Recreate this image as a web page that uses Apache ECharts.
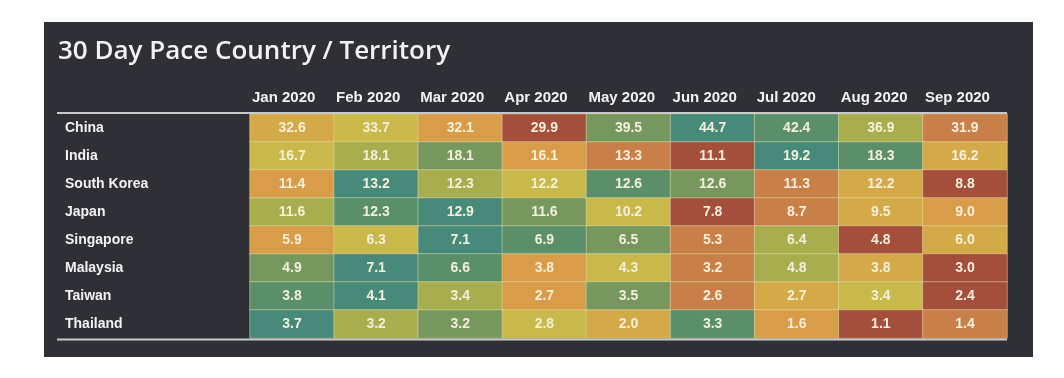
<!DOCTYPE html>
<html>
<head>
<meta charset="utf-8">
<script src="https://cdn.jsdelivr.net/npm/echarts@6/dist/echarts.min.js"></script>
<style>
html,body{margin:0;padding:0;background:#ffffff;}
#chart{width:1064px;height:378px;}
</style>
</head>
<body>
<div id="chart"></div>
<script>
var months = ['Jan 2020','Feb 2020','Mar 2020','Apr 2020','May 2020','Jun 2020','Jul 2020','Aug 2020','Sep 2020'];
var countries = ['China','India','South Korea','Japan','Singapore','Malaysia','Taiwan','Thailand'];
// values per country (shown with one decimal; ties carry estimated hidden precision)
var china     = [32.6, 33.7, 32.1, 29.9, 39.5, 44.7, 42.4, 36.9, 31.9];
var india     = [16.7, 18.08, 18.12, 16.1, 13.3, 11.1, 19.2, 18.3, 16.2];
var southKorea= [11.4, 13.2, 12.3, 12.22, 12.64, 12.56, 11.3, 12.18, 8.8];
var japan     = [11.58, 12.3, 12.9, 11.62, 10.2, 7.8, 8.7, 9.5, 9.0];
var singapore = [5.9, 6.3, 7.1, 6.9, 6.5, 5.3, 6.4, 4.8, 6.0];
var malaysia  = [4.9, 7.1, 6.6, 3.78, 4.3, 3.2, 4.8, 3.82, 3.0];
var taiwan    = [3.8, 4.1, 3.42, 2.68, 3.5, 2.6, 2.72, 3.38, 2.4];
var thailand  = [3.7, 3.18, 3.22, 2.8, 2.0, 3.3, 1.6, 1.1, 1.4];
var rows = [china, india, southKorea, japan, singapore, malaysia, taiwan, thailand];

var rankColors = ['#a44e3c','#c97f48','#d99c48','#d3aa47','#c9b84a','#a8ae4e','#76985e','#5a8f6a','#488a79'];

var data = [];
rows.forEach(function(vals, y){
  var sorted = vals.slice().sort(function(a,b){return a-b;});
  vals.forEach(function(v, x){
    data.push([x, y, v, sorted.indexOf(v)]);
  });
});

var chart = echarts.init(document.getElementById('chart'));
chart.setOption({
  backgroundColor: '#ffffff',
  animation: false,
  title: {
    text: '30 Day Pace Country / Territory',
    left: 53, top: 34,
    textStyle: {color:'#f2f2f2', fontSize: 26, fontWeight: 600, fontFamily: 'Open Sans'}
  },
  graphic: [
    {type:'rect', z:-10, shape:{x:44, y:22, width:989, height:335}, style:{fill:'#2e3035'}},
    {type:'line', z:10, shape:{x1:57, y1:113, x2:1007, y2:113}, style:{stroke:'#c9c9c9', lineWidth:2}},
    {type:'line', z:10, shape:{x1:57, y1:339.5, x2:1007, y2:339.5}, style:{stroke:'#c9c9c9', lineWidth:2}}
  ],
  grid: {left: 250, right: 57, top: 114, bottom: 40},
  xAxis: [
    {type:'category', data: months, show:false},
    {type:'value', min:0, max:9, interval:1, position:'top',
     axisLine:{show:false}, axisTick:{show:false}, splitLine:{show:false},
     axisLabel:{align:'left', margin:9, padding:[0,0,0,2], color:'#f2f2f2', fontSize:15, fontWeight:'bold', fontFamily:'Liberation Sans',
       formatter: function(v){ return months[v] || ''; }}}
  ],
  yAxis: {
    type:'category', data: countries, inverse:true,
    axisLine:{show:false}, axisTick:{show:false}, splitLine:{show:false},
    axisLabel:{align:'left', margin:185, color:'#f2f2f2', fontSize:14, fontWeight:'bold', fontFamily:'Liberation Sans'}
  },
  visualMap: {
    type:'continuous', show:false, dimension:3, min:0, max:8,
    inRange:{color: rankColors}
  },
  series: [{
    type:'heatmap',
    xAxisIndex:0, yAxisIndex:0,
    data: data,
    itemStyle:{borderColor:'rgba(236,226,176,0.5)', borderWidth:1},
    label:{show:true, color:'#f3efdc', fontSize:14, fontWeight:'bold', fontFamily:'Liberation Sans',
      formatter: function(p){ return p.data[2].toFixed(1); }}
  }]
});
</script>
</body>
</html>
